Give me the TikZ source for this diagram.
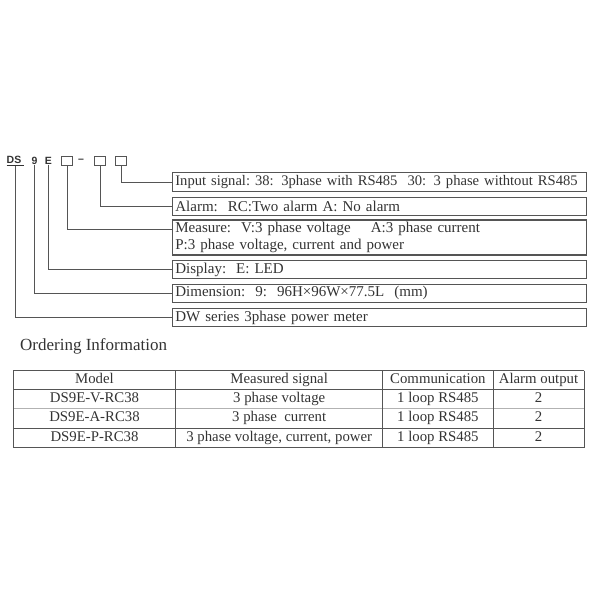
\documentclass[tikz,border=0pt]{standalone}
\usepackage{fontspec}
\setmainfont{Liberation Serif}
\newfontfamily\codefont{Liberation Sans}
\usetikzlibrary{positioning, calc}
\definecolor{InkGray}{HTML}{333333}
\definecolor{RuleGray}{HTML}{555555}

\begin{document}
\begin{tikzpicture}[x=1pt, y=-1pt,
  code/.style={font=\codefont\bfseries\fontsize{10.5}{11}\selectfont, text=InkGray, inner sep=0pt},
  slot/.style={draw=RuleGray, line width=0.9pt, minimum width=10.5pt, minimum height=9.5pt, inner sep=0pt},
  descbox/.style={draw=RuleGray, line width=1.1pt, anchor=west, text width=409pt,
                  inner xsep=2.5pt, inner ysep=0pt, align=left,
                  font=\fontsize{15}{17}\selectfont, text=InkGray},
  lead/.style={draw=RuleGray, line width=0.9pt},
  grid/.style={draw=RuleGray, line width=0.8pt},
  cell/.style={font=\fontsize{14.8}{16}\selectfont, text=InkGray, inner sep=0pt,
               text height=10pt, text depth=3.2pt}
]
\useasboundingbox (0,0) rectangle (600,600);

% model code
\node[code] (ds) at (15.5,161) {\underline{DS\ }};
\node[code] (nine) at (34.5,161) {9};
\node[code] (e) at (48.5,161) {E};
\node[slot] (s1) at (67,161) {};
\node[code] (dash) at (81,161) {–};
\node[slot] (s2) at (100,161) {};
\node[slot] (s3) at (121,161) {};

% code descriptions
\node[descbox, minimum height=19pt] (input) at (172.3,182.2)
  {\mbox{\fontsize{14.6}{17}\selectfont Input signal:\ 38: 3phase with RS485\ \ 30: 3 phase withtout RS485}};
\node[descbox, minimum height=17.7pt] (alarm) at (172.3,206.2)
  {Alarm:\ \ RC:Two alarm A: No alarm};
\node[descbox, minimum height=35pt] (measure) at (172.3,237.5)
  {Measure:\ \ V:3 phase voltage\ \ \ \ A:3 phase current\\P:3 phase voltage, current and power};
\node[descbox, minimum height=17.6pt] (display) at (172.3,269.5)
  {Display:\ \ E: LED};
\node[descbox, minimum height=18pt] (dimension) at (172.3,293.3)
  {Dimension:\ \ 9:\ \ 96H×96W×77.5L\ \ (mm)};
\node[descbox, minimum height=18.4pt] (series) at (172.3,317.5)
  {DW series 3phase power meter};

\draw[lead] (s3.south) |- (input.west);
\draw[lead] (s2.south) |- (alarm.west);
\draw[lead] (s1.south) |- ([yshift=8.5pt]measure.west);
\draw[lead] (e.south) |- (display.west);
\draw[lead] (nine.south) |- (dimension.west);
\draw[lead] (ds.south) |- (series.west);

% ordering table
\node[font=\fontsize{17}{19}\selectfont, text=InkGray, anchor=west, inner sep=0pt]
  (title) at (20,346.7) {Ordering Information};

\foreach \yy in {370.7,389.7,428.3,447.7}
  \draw[grid] (13.3,\yy) -- (584,\yy);
\draw[grid, draw=RuleGray!45] (13.3,408.5) -- (584,408.5);
\foreach \xx in {13.3,175.7,382.7,493,584}
  \draw[grid] (\xx,370.7) -- (\xx,447.7);

\foreach \yy/\ma/\mb/\mc/\md [count=\r] in {
    380.2/Model/Measured signal/Communication/Alarm output,
    399.1/DS9E-V-RC38/3 phase voltage/1 loop RS485/2,
    418.4/DS9E-A-RC38/3 phase\ \ current/1 loop RS485/2,
    438/DS9E-P-RC38/{3 phase voltage, current, power}/1 loop RS485/2} {
  \node[cell] (model\r) at (94.5,\yy) {\ma};
  \node[cell] (signal\r) at (279.2,\yy) {\mb};
  \node[cell] (comm\r) at (437.9,\yy) {\mc};
  \node[cell] (alarm\r) at (538.5,\yy) {\md};
}
\end{tikzpicture}
\end{document}
